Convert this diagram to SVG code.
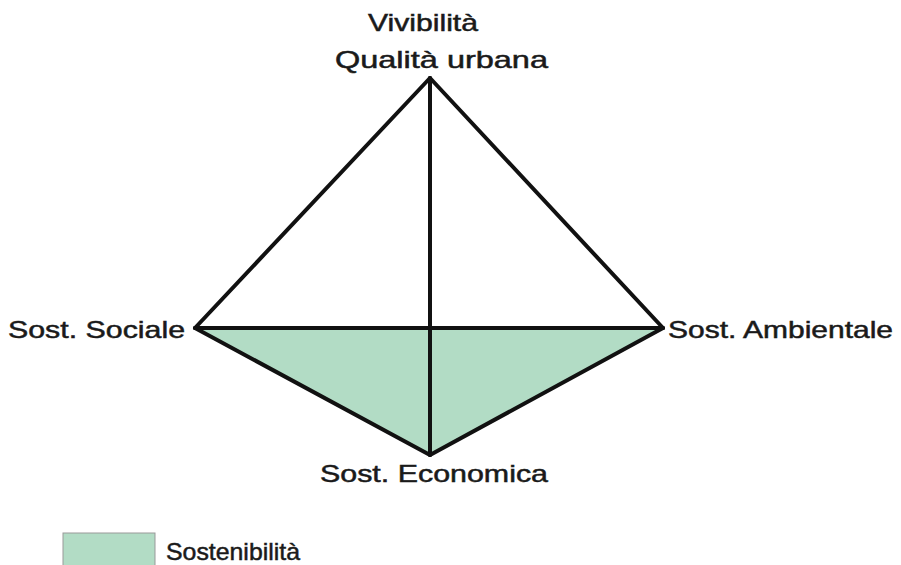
<svg xmlns="http://www.w3.org/2000/svg" width="901" height="565" viewBox="0 0 901 565">
<style>
text{font-family:"Liberation Sans",Arial,sans-serif;font-size:24px;fill:#1a1a1a;stroke:#1a1a1a;stroke-width:0.5}
.e{stroke:#111;stroke-width:4;fill:none;stroke-linejoin:miter;stroke-linecap:round}
</style>
<rect width="901" height="565" fill="#fff"/>
<g id="sostenibilita-area">
<polygon points="195,328 663,328 430,455" fill="#b2dcc5"/>
</g>
<g id="connectors">
<line class="e" x1="430" y1="78" x2="195" y2="328"/>
<line class="e" x1="430" y1="78" x2="663" y2="328"/>
<line class="e" x1="430" y1="78" x2="430" y2="455"/>
<line class="e" x1="195" y1="328" x2="663" y2="328" stroke-width="5"/>
<line class="e" x1="195" y1="328" x2="430" y2="455"/>
<line class="e" x1="663" y1="328" x2="430" y2="455"/>
</g>
<g id="node-top">
<text x="368" y="31" textLength="110" lengthAdjust="spacingAndGlyphs">Vivibilità</text>
<text x="335" y="68" textLength="213" lengthAdjust="spacingAndGlyphs">Qualità urbana</text>
</g>
<g id="node-left">
<text x="8" y="338" textLength="177" lengthAdjust="spacingAndGlyphs">Sost. Sociale</text>
</g>
<g id="node-right">
<text x="668" y="338" textLength="225" lengthAdjust="spacingAndGlyphs">Sost. Ambientale</text>
</g>
<g id="node-bottom">
<text x="320" y="482" textLength="228" lengthAdjust="spacingAndGlyphs">Sost. Economica</text>
</g>
<g id="legend">
<rect x="63" y="533" width="92" height="40" fill="#b2dcc5" stroke="#999" stroke-width="1"/>
<text x="166" y="560" textLength="134" lengthAdjust="spacingAndGlyphs">Sostenibilità</text>
</g>
</svg>
